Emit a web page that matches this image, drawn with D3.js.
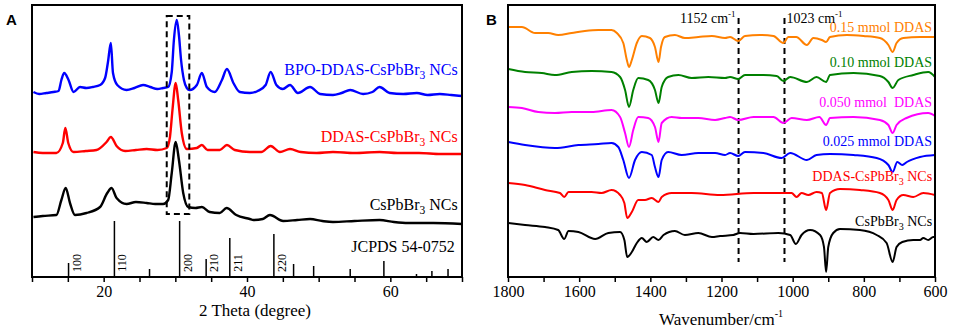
<!DOCTYPE html>
<html>
<head>
<meta charset="utf-8">
<script src="https://cdn.jsdelivr.net/npm/d3@7/dist/d3.min.js"></script>
<style>
body { margin: 0; background: #fff; }
text { font-family: "Liberation Serif", "Times New Roman", serif; white-space: pre; }
</style>
</head>
<body>
<div id="fig"></div>
<script>
// ---------- panel A : XRD, [2theta, intensity a.u. (stacked)] ----------
var xrdBPO = [[10.2,185],[11,183],[12,184],[13,185],[13.7,186],[14.1,197],[14.5,204],[15.1,197],[15.8,185],[16.7,190],[17.6,189],
  [18.5,190],[19.5,192],[20.2,199],[20.6,215],[21.0,234],[21.3,204],[21.9,192],[23.2,187],[24.3,189],[25.5,192],[26.5,190],
  [27.5,188],[28.3,189],[29.0,190],[29.5,205],[29.8,237],[30.2,257],[30.5,242],[30.8,217],[31.2,197],[31.6,189],[32.0,187],
  [33.0,192],[33.7,204],[34.4,190],[35.5,185],[36.5,197],[37.2,208],[38.1,194],[39.0,185],[40.4,184],[41.5,186],[42.6,192],
  [43.3,205],[44.1,192],[45.0,188],[46.0,192],[47.1,184],[48.8,190],[50.2,183],[52.0,182],[53.2,184],[54.4,187],[56.2,183],
  [57.5,185],[58.5,190],[59.9,184],[61.8,183],[63.7,184],[65.2,182],[66.9,183],[68.5,182],[70,181]];
var xrdDDAS = [[10.2,125],[11.5,124],[13.4,124],[14.3,134],[14.65,149],[15.06,134],[15.8,125],[17.5,126],[19.0,127],[20.4,135],
  [21.0,140],[21.8,131],[23.0,126],[24.5,127],[26.0,128],[27.5,127],[28.8,129],[29.25,140],[29.6,167],[30.05,194],[30.4,177],
  [30.9,144],[31.6,128],[33.0,129],[33.7,132],[34.5,127],[36.2,127],[37.2,132],[38.3,127],[40.4,125],[42.0,125],[43.3,131],
  [44.6,125],[46.0,128],[47.5,125],[49.7,124],[52.0,125],[55.0,124],[58.5,125],[61.0,124],[64.0,124],[67.0,123],[70,123]];
var xrdBare = [[10.2,60],[11.5,61],[13.4,62],[14.1,77],[14.7,89],[15.3,74],[16.0,62],[17.6,64],[19.5,70],[20.5,84],[21.1,89],
  [21.8,79],[23.2,73],[24.5,75],[26.0,74],[27.2,73],[28.3,73],[29.0,77],[29.5,104],[30.05,135],[30.5,117],[31.1,84],[31.8,70],
  [32.8,69],[33.7,70],[34.8,65],[36.2,64],[37.15,69],[38.5,62],[40.4,58],[40.9,57],[42.2,58],[43.2,62],[45.05,56],[47.0,57],
  [48.8,58],[50.5,56],[52.0,55],[55.0,56],[58.5,57],[60.5,55],[62.5,54],[66.0,54],[70,53]];
var xrdNames = ["BPO-DDAS-CsPbBr|3| NCs", "DDAS-CsPbBr|3| NCs", "CsPbBr|3| NCs"];
var xrdColors = ["#0000ff", "#ff0000", "#000000"];

// JCPDS 54-0752 reference sticks
var jcpdsPos = [15.1, 21.5, 26.4, 30.6, 34.3, 37.6, 43.75, 46.5, 49.3, 54.4, 59.1, 63.65, 65.8, 68.05];
var jcpdsInt = [14, 56, 8, 56, 18, 39, 43, 13, 11, 8, 16, 3, 6, 8];
var jcpdsHkl = ["100", "110", "", "200", "210", "211", "220", "", "", "", "", "", "", ""];

var thetaTicks = [10, 15, 20, 25, 30, 35, 40, 45, 50, 55, 60, 65, 70];
var thetaLabels = [20, 40, 60];

// ---------- panel B : FTIR, [wavenumber, transmittance a.u. (stacked)] ----------
var ir015 = [[1799,250],[1761,250],[1724,244],[1687,244],[1659,242],[1621,244],[1584,246],[1546,247],[1509,247],[1494,244],
  [1476,234],[1466,217],[1460,210],[1452,217],[1438,234],[1424,241],[1401,239],[1387,230],[1377,215],[1370,230],[1359,240],
  [1331,242],[1303,239],[1265,240],[1227,241],[1190,239],[1176,240],[1153,236],[1134,241],[1092,242],[1054,241],[1026,234],
  [1012,240],[990,240],[960,232],[942,239],[918,237],[906,235],[895,240],[848,242],[801,241],[755,239],[731,232],[719,225],
  [708,234],[689,239],[642,240],[600,240]];
var ir010 = [[1799,208],[1752,205],[1705,204],[1668,202],[1621,205],[1565,206],[1509,205],[1485,200],[1471,187],[1460,170],
  [1448,187],[1434,199],[1406,197],[1387,187],[1377,174],[1368,190],[1350,200],[1321,202],[1284,199],[1237,200],[1190,199],
  [1176,200],[1153,198],[1134,202],[1082,202],[1045,201],[1026,196],[1007,200],[960,195],[933,200],[906,195],[895,202],
  [829,204],[755,201],[731,195],[719,189],[703,197],[661,202],[619,205],[600,200]];
var ir0050 = [[1799,170],[1761,169],[1715,165],[1668,164],[1621,165],[1565,165],[1509,167],[1485,160],[1471,144],[1460,130],
  [1448,147],[1434,160],[1406,159],[1387,150],[1377,135],[1368,154],[1340,160],[1312,159],[1265,159],[1218,157],[1190,159],
  [1176,160],[1153,157],[1110,160],[1054,160],[1026,154],[1003,159],[960,157],[925,160],[906,152],[895,159],[829,160],
  [755,157],[731,152],[719,144],[708,152],[680,159],[619,164],[600,161]];
var ir0025 = [[1799,135],[1752,132],[1668,129],[1602,132],[1546,133],[1509,134],[1490,130],[1476,117],[1460,99],[1443,117],
  [1424,125],[1396,122],[1387,110],[1377,100],[1368,117],[1350,125],[1312,122],[1265,124],[1218,124],[1190,122],[1176,124],
  [1153,121],[1134,125],[1082,124],[1031,119],[1007,124],[960,117],[933,122],[895,123],[829,122],[764,119],[731,112],
  [719,105],[706,115],[692,112],[679,115],[642,120],[600,122]];
var irDDAS = [[1799,94],[1752,92],[1696,87],[1654,84],[1642,80],[1630,85],[1565,85],[1537,84],[1509,87],[1485,82],[1473,74],
  [1465,59],[1452,65],[1434,77],[1415,77],[1396,79],[1377,75],[1368,80],[1340,84],[1284,84],[1204,82],[1110,84],[1026,84],
  [1003,84],[989,80],[975,84],[956,82],[933,85],[918,84],[906,67],[895,84],[867,88],[811,87],[755,84],[731,77],[719,67],
  [708,77],[689,82],[661,80],[633,84],[600,82]];
var irBare = [[1799,54],[1752,52],[1696,50],[1659,47],[1642,38],[1630,46],[1602,45],[1555,38],[1518,44],[1485,45],[1473,37],
  [1465,20],[1452,25],[1438,34],[1424,39],[1410,35],[1392,40],[1377,37],[1363,42],[1331,46],[1303,42],[1265,44],[1227,40],
  [1204,41],[1167,42],[1148,44],[1110,43],[1040,44],[1007,42],[991,33],[975,42],[951,47],[923,42],[912,30],[906,5],[900,30],
  [886,44],[867,48],[811,47],[764,42],[736,34],[719,15],[708,30],[692,35],[661,37],[642,37],[633,39],[619,37],[605,40],[600,40]];
var irNames = ["0.15 mmol DDAS", "0.10 mmol DDAS", "0.050 mmol  DDAS", "0.025 mmol DDAS", "DDAS-CsPbBr|3| NCs", "CsPbBr|3| NCs"];
var irColors = ["#ff8000", "#008000", "#ff00ff", "#0000ff", "#ff0000", "#000000"];
var markLines = [1152, 1023];

var wnTicks = [1800, 1700, 1600, 1500, 1400, 1300, 1200, 1100, 1000, 900, 800, 700, 600];
var wnLabels = [1800, 1600, 1400, 1200, 1000, 800, 600];

// ---------- drawing ----------
var svg = d3.select("#fig").append("svg")
    .attr("width", 957)
    .attr("height", 333)
    .style("background", "#fff");

// rich text: "a|3|b" -> subscript 3
function addRich(sel, str, size) {
  var parts = str.split("|");
  parts.forEach(function(p, i) {
    if (i % 2 == 1) {
      sel.append("tspan").attr("font-size", size * 0.72).attr("dy", size * 0.28).text(p);
    } else {
      var t = sel.append("tspan").text(p);
      if (i > 0) t.attr("dy", -size * 0.28);
    }
  });
}

// ----- panel A -----
var xA = d3.scaleLinear().domain([10, 70]).range([32, 462]);
var yA = d3.scaleLinear().domain([0, 272]).range([277, 5]);

var gA = svg.append("g");

var lineA = d3.line()
    .x(function(d) { return xA(d[0]); })
    .y(function(d) { return yA(d[1]); })
    .curve(d3.curveMonotoneX);

[xrdBPO, xrdDDAS, xrdBare].forEach(function(s, i) {
  gA.append("path")
    .datum(s)
    .attr("d", lineA)
    .attr("fill", "none")
    .attr("stroke", xrdColors[i])
    .attr("stroke-width", 2.4)
    .attr("stroke-linejoin", "round");
});

// JCPDS sticks
gA.selectAll(".stick")
  .data(jcpdsPos)
  .enter().append("line")
    .attr("x1", function(d) { return xA(d); })
    .attr("x2", function(d) { return xA(d); })
    .attr("y1", yA(0))
    .attr("y2", function(d, i) { return yA(jcpdsInt[i]); })
    .attr("stroke", "#000")
    .attr("stroke-width", 1.5);

gA.selectAll(".hkl")
  .data(jcpdsPos)
  .enter().append("text")
    .attr("transform", function(d) { return "translate(" + (xA(d) + 12) + "," + yA(14) + ")rotate(-90)"; })
    .attr("text-anchor", "middle")
    .attr("font-size", 12)
    .text(function(d, i) { return jcpdsHkl[i]; });

// dashed box round the (200) peak
gA.append("rect")
    .attr("x", xA(28.8))
    .attr("y", yA(261))
    .attr("width", xA(31.95) - xA(28.8))
    .attr("height", yA(63) - yA(261))
    .attr("fill", "none")
    .attr("stroke", "#000")
    .attr("stroke-width", 2)
    .attr("stroke-dasharray", "6,4");

// labels
var labA = [202, 135, 67];
xrdNames.forEach(function(n, i) {
  var t = gA.append("text")
    .attr("x", xA(69.4))
    .attr("y", yA(labA[i]))
    .attr("text-anchor", "end")
    .attr("font-size", 16)
    .attr("fill", xrdColors[i]);
  addRich(t, n, 16);
});
gA.append("text")
    .attr("x", xA(69.0))
    .attr("y", yA(25))
    .attr("text-anchor", "end")
    .attr("font-size", 16)
    .text("JCPDS 54-0752");

// axis
gA.append("g")
    .attr("transform", "translate(0," + yA(0) + ")")
    .call(d3.axisBottom(xA).tickValues(thetaTicks).tickSize(5).tickPadding(4)
      .tickFormat(function(d) { return thetaLabels.indexOf(d) >= 0 ? d : ""; }))
    .call(function(g) { g.select(".domain").remove(); })
    .call(function(g) { g.selectAll(".tick line").attr("stroke-width", 1.5); })
    .selectAll("text")
      .attr("font-family", "Liberation Serif")
      .attr("font-size", 16)
      .attr("fill", "#000");

gA.append("rect")
    .attr("x", 32).attr("y", 5)
    .attr("width", 430).attr("height", 272)
    .attr("fill", "none")
    .attr("stroke", "#000")
    .attr("stroke-width", 2);

gA.append("text")
    .attr("x", 255)
    .attr("y", 316)
    .attr("text-anchor", "middle")
    .attr("font-size", 17)
    .text("2 Theta (degree)");

svg.append("text")
    .attr("x", 6).attr("y", 25)
    .style("font-family", "Liberation Sans, Arial, sans-serif")
    .attr("font-weight", "bold")
    .attr("font-size", 15)
    .text("A");

// ----- panel B -----
var xB = d3.scaleLinear().domain([1800, 600]).range([508, 935]);
var yB = d3.scaleLinear().domain([0, 272]).range([277, 5]);

var gB = svg.append("g");

var lineB = d3.line()
    .x(function(d) { return xB(d[0]); })
    .y(function(d) { return yB(d[1]); })
    .curve(d3.curveMonotoneX);

// dashed marker lines
gB.selectAll(".mark")
  .data(markLines)
  .enter().append("line")
    .attr("x1", function(d) { return xB(d); })
    .attr("x2", function(d) { return xB(d); })
    .attr("y1", yB(259))
    .attr("y2", yB(15))
    .attr("stroke", "#000")
    .attr("stroke-width", 2)
    .attr("stroke-dasharray", "6,4");

[ir015, ir010, ir0050, ir0025, irDDAS, irBare].forEach(function(s, i) {
  gB.append("path")
    .datum(s)
    .attr("d", lineB)
    .attr("fill", "none")
    .attr("stroke", irColors[i])
    .attr("stroke-width", 2)
    .attr("stroke-linejoin", "round");
});

var labB = [245, 210, 170, 131, 96, 51];
irNames.forEach(function(n, i) {
  var t = gB.append("text")
    .attr("x", xB(608))
    .attr("y", yB(labB[i]))
    .attr("text-anchor", "end")
    .attr("font-size", 14)
    .attr("fill", irColors[i]);
  addRich(t, n, 14);
});

// wavenumber labels on the dashed lines
var m1 = gB.append("text")
    .attr("x", xB(1152) - 3)
    .attr("y", yB(254))
    .attr("text-anchor", "end")
    .attr("font-size", 14);
m1.append("tspan").text("1152 cm");
m1.append("tspan").attr("font-size", 9).attr("dy", -6).text("-1");
var m2 = gB.append("text")
    .attr("x", xB(1023) + 2)
    .attr("y", yB(254))
    .attr("font-size", 14);
m2.append("tspan").text("1023 cm");
m2.append("tspan").attr("font-size", 9).attr("dy", -6).text("-1");

gB.append("g")
    .attr("transform", "translate(0," + yB(0) + ")")
    .call(d3.axisBottom(xB).tickValues(wnTicks).tickSize(5).tickPadding(4)
      .tickFormat(function(d) { return wnLabels.indexOf(d) >= 0 ? d : ""; }))
    .call(function(g) { g.select(".domain").remove(); })
    .call(function(g) { g.selectAll(".tick line").attr("stroke-width", 1.5); })
    .selectAll("text")
      .attr("font-family", "Liberation Serif")
      .attr("font-size", 16)
      .attr("fill", "#000");

gB.append("rect")
    .attr("x", 508).attr("y", 5)
    .attr("width", 427).attr("height", 272)
    .attr("fill", "none")
    .attr("stroke", "#000")
    .attr("stroke-width", 2);

var wl = gB.append("text")
    .attr("x", 721)
    .attr("y", 325)
    .attr("text-anchor", "middle")
    .attr("font-size", 17);
wl.append("tspan").text("Wavenumber/cm");
wl.append("tspan").attr("font-size", 10).attr("dy", -8).text("-1");

svg.append("text")
    .attr("x", 486).attr("y", 25)
    .style("font-family", "Liberation Sans, Arial, sans-serif")
    .attr("font-weight", "bold")
    .attr("font-size", 15)
    .text("B");
</script>
</body>
</html>
